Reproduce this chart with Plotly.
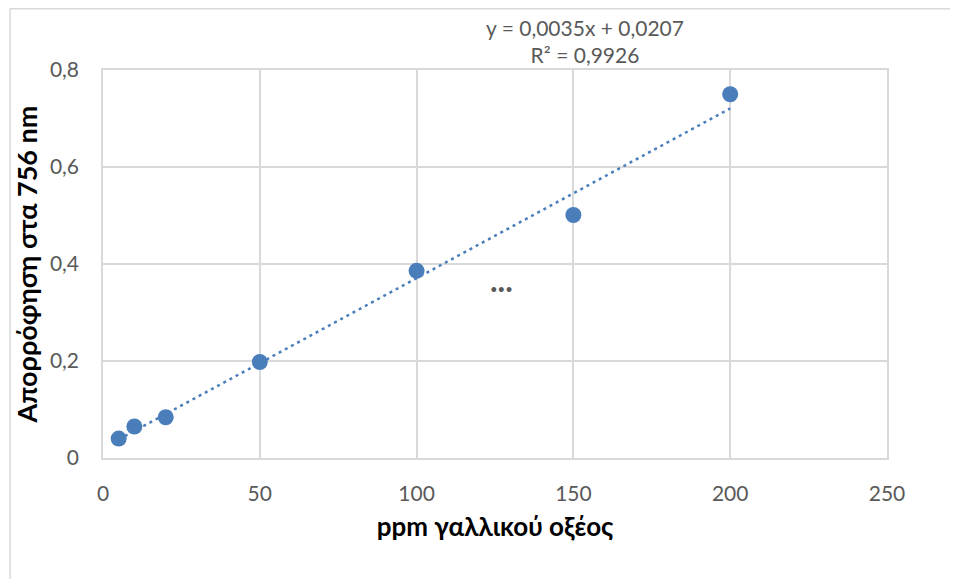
import plotly.graph_objects as go

# Data
ppm = [5, 10, 20, 50, 100, 150, 200]
absorbance = [0.040, 0.065, 0.084, 0.198, 0.386, 0.501, 0.750]

# Linear trendline (as shown on the chart)
slope = 0.0035
intercept = 0.0207
trend_x = [ppm[0], ppm[-1]]
trend_y = [slope * x + intercept for x in trend_x]

x_ticks = [0, 50, 100, 150, 200, 250]
x_ticktext = ["0", "50", "100", "150", "200", "250"]
y_ticks = [0, 0.2, 0.4, 0.6, 0.8]
y_ticktext = ["0", "0,2", "0,4", "0,6", "0,8"]

equation_text = "y = 0,0035x + 0,0207<br>R² = 0,9926"
x_title = "ppm γαλλικού οξέος"
y_title = "Απορρόφηση στα 756 nm"

BLUE = "#4a7ebb"
GRID = "#d9d9d9"
TXT = "#595959"
FONT = "Lato, 'Noto Sans', sans-serif"

fig = go.Figure()
fig.add_trace(go.Scatter(
    x=trend_x, y=trend_y, mode="lines",
    line=dict(color=BLUE, width=2.5, dash="3px,4px"),
    hoverinfo="skip", showlegend=False,
))
fig.add_trace(go.Scatter(
    x=ppm, y=absorbance, mode="markers",
    marker=dict(color=BLUE, size=16),
    showlegend=False,
))

# page has an 8px body margin; compensate
OFF = 8
W, H = 958 - OFF, 579 - OFF
L, R, T, B = 103 - OFF, 71, 70 - OFF, 121
pw, ph = W - L - R, H - T - B

fig.update_layout(
    width=W, height=H,
    margin=dict(l=L, r=R, t=T, b=B),
    paper_bgcolor="white", plot_bgcolor="white",
    font=dict(family=FONT, size=21, color=TXT),
    xaxis=dict(
        range=[0, 250], tickvals=x_ticks, ticktext=x_ticktext,
        showgrid=True, gridcolor=GRID, gridwidth=1.5,
        showline=True, linecolor=GRID, linewidth=1.5, mirror=True,
        zeroline=False, ticks="", ticklabelstandoff=16,
        title=dict(text="<b>" + x_title + "</b>",
                   font=dict(family=FONT, size=26, color="#000000"), standoff=14),
        fixedrange=True,
    ),
    yaxis=dict(
        range=[0, 0.8], tickvals=y_ticks, ticktext=y_ticktext,
        showgrid=True, gridcolor=GRID, gridwidth=1.5,
        showline=True, linecolor=GRID, linewidth=1.5, mirror=True,
        zeroline=False, ticks="", ticklabelstandoff=18,
        title=dict(text="<b>" + y_title + "</b>",
                   font=dict(family=FONT, size=27, color="#000000"), standoff=4),
        fixedrange=True,
    ),
    annotations=[
        dict(x=153.7, y=1, xref="x", yref="paper", yanchor="bottom", yshift=1,
             text=equation_text, showarrow=False,
             font=dict(family=FONT, size=21, color=TXT), align="center"),
        dict(x=127, y=0.368, xref="x", yref="y",
             text="<b>...</b>", showarrow=False,
             font=dict(family=FONT, size=32, color=TXT)),
    ],
    shapes=[
        dict(type="line", xref="paper", yref="paper",
             x0=(2 - L) / pw, x1=(W - L) / pw, y0=1 + (T - 0.75) / ph, y1=1 + (T - 0.75) / ph,
             line=dict(color=GRID, width=1.5)),
        dict(type="line", xref="paper", yref="paper",
             x0=(2 - L) / pw, x1=(2 - L) / pw, y0=1 + (T - 0.75) / ph, y1=-B / ph,
             line=dict(color=GRID, width=1.5)),
    ],
)

fig.write_html("out.html")
